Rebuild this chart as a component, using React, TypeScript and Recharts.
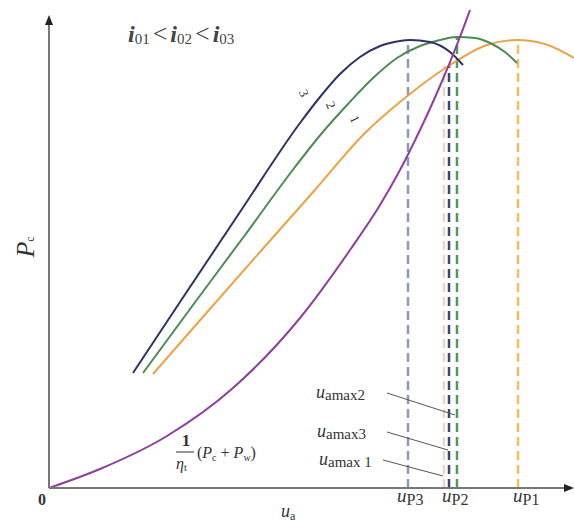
import React from 'react';
import { LineChart, Line, XAxis, YAxis, ReferenceLine, ReferenceDot } from 'recharts';

// curve points (x: u_a, y: P)
const curve3 = [
  { x: 84, y: 115 }, { x: 131, y: 186 }, { x: 191, y: 276 }, { x: 251, y: 365 },
  { x: 271, y: 391 }, { x: 291, y: 414 }, { x: 311, y: 431 }, { x: 331, y: 442 },
  { x: 351, y: 447 }, { x: 361, y: 448 }, { x: 381, y: 446 }, { x: 401, y: 436 },
  { x: 414, y: 423 },
];
const curve2 = [
  { x: 94, y: 115 }, { x: 144, y: 183 }, { x: 196, y: 253 }, { x: 246, y: 321 },
  { x: 273, y: 355 }, { x: 299, y: 384 }, { x: 323, y: 409 }, { x: 348, y: 430 },
  { x: 371, y: 442 }, { x: 391, y: 448 }, { x: 408, y: 451 }, { x: 426, y: 450 },
  { x: 441, y: 445 }, { x: 456, y: 436 }, { x: 468, y: 425 },
];
const curve1 = [
  { x: 104, y: 114 }, { x: 160, y: 178 }, { x: 211, y: 236 }, { x: 265, y: 297 },
  { x: 316, y: 355 }, { x: 351, y: 386 }, { x: 398, y: 421 }, { x: 438, y: 443 },
  { x: 468, y: 448 }, { x: 496, y: 444 }, { x: 525, y: 430 },
];
const resistance = [
  { x: 0, y: 0 }, { x: 51, y: 19 }, { x: 118, y: 52 }, { x: 184, y: 100 },
  { x: 251, y: 170 }, { x: 301, y: 238 }, { x: 331, y: 283 }, { x: 351, y: 318 },
  { x: 371, y: 358 }, { x: 391, y: 402 }, { x: 409, y: 446 }, { x: 421, y: 478 },
];

// vertical dashed markers: x position, top
const markers = [
  { name: 'uP3', x: 359, top: 448, color: '#9096b8' },
  { name: 'uamax1', x: 395, top: 422, color: '#efd3c6' },
  { name: 'uamax3', x: 400, top: 422, color: '#3f4470' },
  { name: 'uP2', x: 408, top: 450, color: '#4f9a60' },
  { name: 'uP1', x: 469, top: 446, color: '#f0c060' },
];
// leader lines from the u_amax labels
const leaders = [
  { from: { x: 338, y: 95 }, to: { x: 406, y: 73 } },
  { from: { x: 338, y: 56 }, to: { x: 399, y: 38 } },
  { from: { x: 334, y: 28 }, to: { x: 394, y: 12 } },
];
const amaxLabels = [
  { sub: 'amax2', x: 267, y: 90 },
  { sub: 'amax3', x: 268, y: 51 },
  { sub: 'amax 1', x: 270, y: 23 },
];
const pLabels = [
  { sub: 'P3', x: 348 },
  { sub: 'P2', x: 393 },
  { sub: 'P1', x: 464 },
];
const curveTags = [
  { text: '3', x: 255, y: 395 },
  { text: '2', x: 282, y: 383 },
  { text: '1', x: 306, y: 369 },
];

const SERIF = "'Liberation Serif', 'DejaVu Serif', serif";
const INK = '#333';

const at = (draw: (cx: number, cy: number) => React.ReactElement) => (p: any) => draw(p.cx, p.cy);

export default function App() {
  return (
    <div style={{ position: 'absolute', left: 0, top: 0, background: '#fff' }}>
      <LineChart width={574} height={523} margin={{ top: 0, right: 0, bottom: 35, left: 49 }}>
        <XAxis type="number" dataKey="x" domain={[0, 525]} hide allowDataOverflow />
        <YAxis type="number" dataKey="y" domain={[0, 488]} hide allowDataOverflow />

        {markers.map((m) => (
          <ReferenceLine
            key={m.name}
            segment={[{ x: m.x, y: 0 }, { x: m.x, y: m.top }]}
            stroke={m.color}
            strokeWidth={2.5}
            strokeDasharray="9 5"
          />
        ))}
        {leaders.map((l, i) => (
          <ReferenceLine key={i} segment={[l.from, l.to]} stroke="#555" strokeWidth={1} />
        ))}

        <Line data={curve1} dataKey="y" type="monotone" stroke="#eba24c" strokeWidth={2} dot={false} isAnimationActive={false} />
        <Line data={curve2} dataKey="y" type="monotone" stroke="#4d8a55" strokeWidth={2} dot={false} isAnimationActive={false} />
        <Line data={curve3} dataKey="y" type="monotone" stroke="#2f3163" strokeWidth={2} dot={false} isAnimationActive={false} />
        <Line data={resistance} dataKey="y" type="monotone" stroke="#8d3f9b" strokeWidth={2} dot={false} isAnimationActive={false} />

        {/* axes */}
        <ReferenceLine segment={[{ x: 0, y: 0 }, { x: 519, y: 0 }]} stroke="#777" strokeWidth={2} ifOverflow="visible" />
        <ReferenceLine segment={[{ x: 0, y: 0 }, { x: 0, y: 466 }]} stroke="#777" strokeWidth={2} ifOverflow="visible" />
        <ReferenceDot x={525} y={0} r={0} ifOverflow="visible"
          shape={at((cx, cy) => <polygon points={`${cx},${cy} ${cx - 10},${cy - 4} ${cx - 10},${cy + 4}`} fill="#222" />)} />
        <ReferenceDot x={0} y={473} r={0} ifOverflow="visible"
          shape={at((cx, cy) => <polygon points={`${cx},${cy} ${cx - 4},${cy + 10} ${cx + 4},${cy + 10}`} fill="#222" />)} />

        {/* i01 < i02 < i03 */}
        <ReferenceDot x={79} y={446} r={0} ifOverflow="visible"
          shape={at((cx, cy) => (
            <text x={cx} y={cy} fontFamily={SERIF} fill="#444" fontSize={24}>
              <tspan fontStyle="italic" fontWeight="bold">i</tspan>
              <tspan fontSize={15} dy={2}>01</tspan>
              <tspan dy={-2} dx={3} fontSize={26}>&lt;</tspan>
              <tspan fontStyle="italic" fontWeight="bold" dx={3}>i</tspan>
              <tspan fontSize={15} dy={2}>02</tspan>
              <tspan dy={-2} dx={3} fontSize={26}>&lt;</tspan>
              <tspan fontStyle="italic" fontWeight="bold" dx={3}>i</tspan>
              <tspan fontSize={15} dy={2}>03</tspan>
            </text>
          ))} />

        {/* P_c */}
        <ReferenceDot x={-24} y={241} r={0} ifOverflow="visible"
          shape={at((cx, cy) => (
            <text x={cx} y={cy} fontFamily={SERIF} fill={INK} fontSize={26} textAnchor="middle"
              transform={`rotate(-90 ${cx} ${cy})`} dominantBaseline="central">
              <tspan fontStyle="italic">P</tspan>
              <tspan fontSize={12} dy={5}>c</tspan>
            </text>
          ))} />

        {/* origin */}
        <ReferenceDot x={-7} y={-17} r={0} ifOverflow="visible"
          shape={at((cx, cy) => (
            <text x={cx} y={cy} fontFamily={SERIF} fill={INK} fontSize={16} fontWeight="bold" textAnchor="middle">0</text>
          ))} />

        {pLabels.map((l) => (
          <ReferenceDot key={l.sub} x={l.x} y={-14} r={0} ifOverflow="visible"
            shape={at((cx, cy) => (
              <text x={cx} y={cy} fontFamily={SERIF} fill={INK} fontSize={19}>
                <tspan fontStyle="italic">u</tspan>
                <tspan fontSize={16} dy={3}>{l.sub}</tspan>
              </text>
            ))} />
        ))}

        <ReferenceDot x={232} y={-29} r={0} ifOverflow="visible"
          shape={at((cx, cy) => (
            <text x={cx} y={cy} fontFamily={SERIF} fill={INK} fontSize={18}>
              <tspan fontStyle="italic">u</tspan>
              <tspan fontSize={12} dy={3}>a</tspan>
            </text>
          ))} />

        {amaxLabels.map((l) => (
          <ReferenceDot key={l.sub} x={l.x} y={l.y} r={0} ifOverflow="visible"
            shape={at((cx, cy) => (
              <text x={cx} y={cy} fontFamily={SERIF} fill={INK} fontSize={18}>
                <tspan fontStyle="italic">u</tspan>
                <tspan fontSize={15} dy={2}>{l.sub}</tspan>
              </text>
            ))} />
        ))}

        {curveTags.map((t) => (
          <ReferenceDot key={t.text} x={t.x} y={t.y} r={0} ifOverflow="visible"
            shape={at((cx, cy) => (
              <text x={cx} y={cy} fontFamily={SERIF} fill={INK} fontSize={13} textAnchor="middle"
                dominantBaseline="central" transform={`rotate(65 ${cx} ${cy})`}>{t.text}</text>
            ))} />
        ))}

        {/* 1/eta_t (Pc + Pw) */}
        <ReferenceDot x={137} y={42} r={0} ifOverflow="visible"
          shape={at((cx, cy) => (
            <text x={cx} y={cy} fontFamily={SERIF} fill={INK} fontSize={17} fontWeight="bold" textAnchor="middle">1</text>
          ))} />
        <ReferenceLine segment={[{ x: 127, y: 36 }, { x: 145, y: 36 }]} stroke={INK} strokeWidth={1} />
        <ReferenceDot x={127} y={19} r={0} ifOverflow="visible"
          shape={at((cx, cy) => (
            <text x={cx} y={cy} fontFamily={SERIF} fill={INK} fontSize={16}>
              <tspan fontStyle="italic">η</tspan>
              <tspan fontSize={10} dy={2}>t</tspan>
            </text>
          ))} />
        <ReferenceDot x={148} y={30} r={0} ifOverflow="visible"
          shape={at((cx, cy) => (
            <text x={cx} y={cy} fontFamily={SERIF} fill={INK} fontSize={16}>
              <tspan>(</tspan>
              <tspan fontStyle="italic">P</tspan>
              <tspan fontSize={10} dy={3}>c</tspan>
              <tspan dy={-3}> + </tspan>
              <tspan fontStyle="italic">P</tspan>
              <tspan fontSize={10} dy={3}>w</tspan>
              <tspan dy={-3}>)</tspan>
            </text>
          ))} />
      </LineChart>
    </div>
  );
}
